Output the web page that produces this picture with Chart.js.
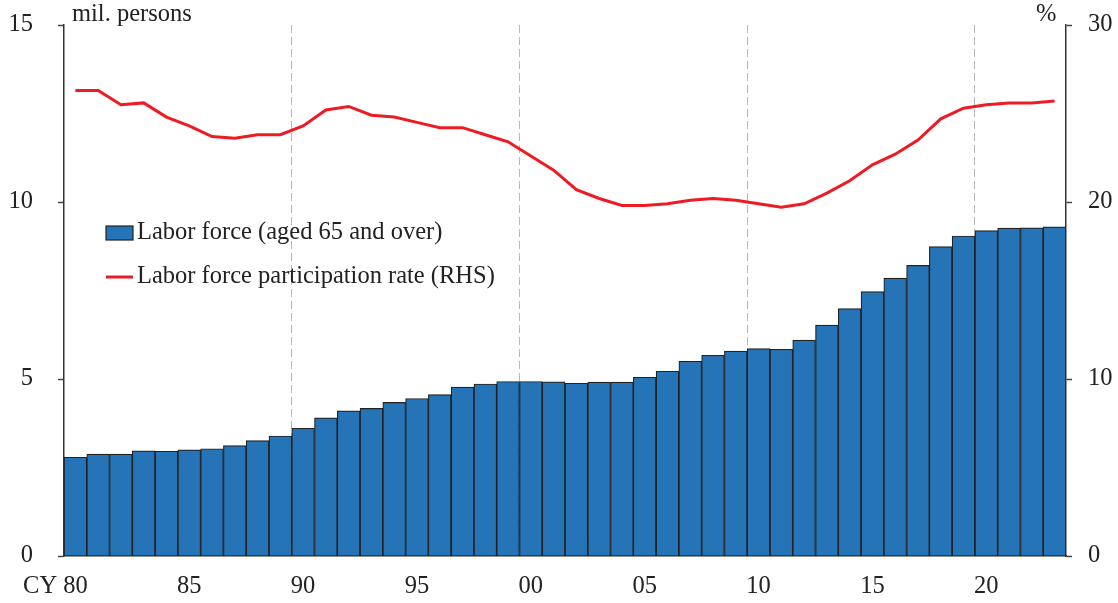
<!DOCTYPE html>
<html>
<head>
<meta charset="utf-8">
<script src="https://cdn.jsdelivr.net/npm/chart.js@4"></script>
<style>
  html, body { margin: 0; padding: 0; background: #fff; }
  #wrap { width: 1118px; height: 603px; position: relative; }
</style>
</head>
<body>
<div id="wrap"><canvas id="myChart"></canvas></div>
<script>
// years 1980 .. 2023
const years = ['80','81','82','83','84','85','86','87','88','89',
               '90','91','92','93','94','95','96','97','98','99',
               '00','01','02','03','04','05','06','07','08','09',
               '10','11','12','13','14','15','16','17','18','19',
               '20','21','22','23'];

// labor force aged 65 and over, mil. persons
const laborForce = [2.79, 2.88, 2.88, 2.97, 2.96, 3.00, 3.03, 3.12, 3.26, 3.39,
                    3.61, 3.90, 4.10, 4.17, 4.34, 4.45, 4.56, 4.77, 4.86, 4.93,
                    4.93, 4.92, 4.88, 4.91, 4.91, 5.05, 5.22, 5.50, 5.67, 5.79,
                    5.86, 5.84, 6.10, 6.52, 6.99, 7.47, 7.85, 8.21, 8.74, 9.04,
                    9.19, 9.26, 9.27, 9.30];

// participation rate, % (RHS)
const partRate = [26.3, 26.3, 25.5, 25.6, 24.8, 24.3, 23.7, 23.6, 23.8, 23.8,
                  24.3, 25.2, 25.4, 24.9, 24.8, 24.5, 24.2, 24.2, 23.8, 23.4,
                  22.6, 21.8, 20.7, 20.2, 19.8, 19.8, 19.9, 20.1, 20.2, 20.1,
                  19.9, 19.7, 19.9, 20.5, 21.2, 22.1, 22.7, 23.5, 24.7, 25.3,
                  25.5, 25.6, 25.6, 25.7];

const leftTicks = [0, 5, 10, 15];
const rightTicks = [0, 10, 20, 30];

const FONT = 'Liberation Serif';
const FSIZE = 24.5;
const XPAD = 16;
Chart.defaults.font.family = FONT;
Chart.defaults.font.size = FSIZE;
Chart.defaults.color = '#222';

const textPlugin = {
  id: 'texts',
  afterDraw(chart) {
    const c = chart.ctx;
    const x = chart.scales.x;
    c.save();
    c.font = FSIZE + 'px "' + FONT + '"';
    c.fillStyle = '#222';
    c.textBaseline = 'middle';
    c.textAlign = 'left';
    c.fillText('mil. persons', 72, 15);
    c.fillText('%', 1036, 15);
    // "CY" before the first year label, same line as the ticks
    c.textAlign = 'right';
    const firstX = x.getPixelForTick(0);
    const w = c.measureText(years[0]).width;
    c.fillText('CY', firstX - w / 2 - 6, x.top + XPAD + FSIZE * 0.6);

    // legend inside the plot
    const ds = chart.data.datasets;
    c.textAlign = 'left';
    c.fillStyle = ds[0].backgroundColor;
    c.fillRect(106, 226, 27, 14);
    c.strokeStyle = '#222';
    c.lineWidth = 1.2;
    c.strokeRect(106, 226, 27, 14);
    c.fillStyle = '#222';
    c.fillText(ds[0].label, 137, 233);
    c.strokeStyle = ds[1].borderColor;
    c.lineWidth = 3;
    c.beginPath();
    c.moveTo(106, 277);
    c.lineTo(133, 277);
    c.stroke();
    c.fillText(ds[1].label, 137, 277);
    c.restore();
  }
};

// keep the plot area fixed: axis widths set here, no extra label padding
function fixY(w) {
  return (s) => { s.width = w; s.paddingTop = 0; s.paddingBottom = 0; };
}

const ctx = document.getElementById('myChart').getContext('2d');
new Chart(ctx, {
  data: {
    labels: years,
    datasets: [
      {
        type: 'bar',
        label: 'Labor force (aged 65 and over)',
        data: laborForce,
        backgroundColor: '#2474b7',
        borderColor: '#222',
        borderWidth: 1.2,
        barPercentage: 1,
        categoryPercentage: 1,
        yAxisID: 'y',
        order: 2
      },
      {
        type: 'line',
        label: 'Labor force participation rate (RHS)',
        data: partRate,
        borderColor: '#ed1c24',
        borderWidth: 3,
        pointRadius: 0,
        tension: 0,
        yAxisID: 'y2',
        order: 1
      }
    ]
  },
  options: {
    responsive: true,
    maintainAspectRatio: false,
    animation: false,
    layout: { padding: { top: 25, left: 0, right: 0, bottom: 0 } },
    plugins: {
      legend: { display: false },
      tooltip: { enabled: false }
    },
    scales: {
      x: {
        offset: true,
        grid: {
          offset: true,
          drawTicks: false,
          color: (c) => (c.index > 0 && c.index % 10 === 0) ? '#b8b8b8' : 'rgba(0,0,0,0)',
          lineWidth: 1
        },
        border: { display: true, color: '#222', width: 1.5, dash: [8, 4] },
        ticks: {
          autoSkip: false,
          maxRotation: 0,
          padding: XPAD,
          callback: function(v, i) { return i % 5 === 0 ? years[i] : ''; }
        },
        afterFit: (s) => { s.height = 47; s.paddingLeft = 0; s.paddingRight = 0; }
      },
      y: {
        position: 'left',
        min: 0,
        max: 15,
        afterBuildTicks: (s) => { s.ticks = leftTicks.map(v => ({ value: v })); },
        grid: { drawOnChartArea: false, drawTicks: true, tickLength: 6, tickColor: '#444', tickWidth: 1.5 },
        border: { display: true, color: '#333', width: 1.5 },
        ticks: { padding: 25 },
        afterFit: fixY(64)
      },
      y2: {
        position: 'right',
        min: 0,
        max: 30,
        afterBuildTicks: (s) => { s.ticks = rightTicks.map(v => ({ value: v })); },
        grid: { drawOnChartArea: false, drawTicks: true, tickLength: 6, tickColor: '#444', tickWidth: 1.5 },
        border: { display: true, color: '#333', width: 1.5 },
        ticks: { padding: 16 },
        afterFit: fixY(52)
      }
    }
  },
  plugins: [textPlugin]
});
</script>
</body>
</html>
